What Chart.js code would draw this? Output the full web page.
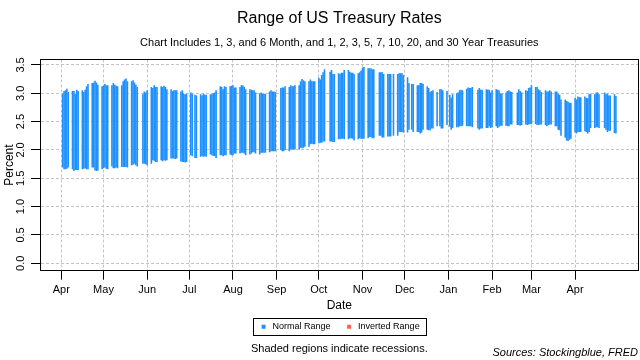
<!DOCTYPE html>
<html>
<head>
<meta charset="utf-8">
<title>Range of US Treasury Rates</title>
<script src="https://cdn.jsdelivr.net/npm/chart.js@4.4.1/dist/chart.umd.min.js"></script>
<style>
  html, body { margin: 0; padding: 0; background: #fff; }
</style>
</head>
<body>
<canvas id="chart-treasury-range" width="640" height="360"></canvas>
<script>
const FONT = '"Liberation Sans", Arial, Helvetica, sans-serif';
const BLUE = '#1e90ff';
const RED = '#ff6347';

// x axis is "days since 1 Apr 2018"
const startDay = Date.UTC(2018, 3, 1);
const endDay = Date.UTC(2019, 3, 30);
const holidays = [
    '2018-05-28', '2018-07-04', '2018-09-03', '2018-10-08', '2018-11-12', '2018-11-22',
    '2018-12-05', '2018-12-25', '2019-01-01', '2019-01-21', '2019-02-18', '2019-04-19'
];

const monthTicks = [0, 30, 61, 91, 122, 153, 183, 214, 244, 275, 306, 334, 365];
const monthLabels = ['Apr', 'May', 'Jun', 'Jul', 'Aug', 'Sep', 'Oct', 'Nov', 'Dec', 'Jan', 'Feb', 'Mar', 'Apr'];
const percentTicks = [0, 0.5, 1, 1.5, 2, 2.5, 3, 3.5];

// highest rate of the curve, one row per week
const highs = [
    2.99, 3.04, 3.05, 3.08, 3.02,
    3.04, 3.04, 2.99, 3.06, 3.04,
    3.05, 3.02, 3.06, 3.12, 3.16,
    3.18, 3.19, 3.22, 3.19, 3.15,
    3.12, 3.13, 3.16, 3.14, 3.14,
    3.14, 3.18, 3.15, 3.13, 3.12,
    3.14, 3.21, 3.24, 3.26, 3.21,
    3.21, 3.23, 3.19, 3.15, 3.11,
    2.98, 3.03, 3.01, 3.05,
    3.11, 3.09, 3.14, 3.11, 3.11,
    3.12, 3.11, 3.13, 3.11, 3.07,
    3.07, 3.04, 3.05, 3.05, 3.05,
    3.03, 3.05, 2.99, 2.98, 2.99,
    3.01, 2.99, 2.97, 2.96,
    2.98, 2.96, 2.99, 2.97, 2.97,
    2.98, 2.98, 3.00, 3.01, 3.05,
    3.12, 3.11, 3.07, 3.12, 3.11,
    3.12, 3.13, 3.14, 3.10, 3.10,
    3.11, 3.14, 3.14, 3.11, 3.07,
    3.07, 3.06, 3.05, 3.05, 3.01,
    3.00, 3.01, 2.99, 2.99, 2.99,
    3.03, 3.05, 3.03, 3.03, 3.02,
    3.09, 3.10, 3.10, 3.12,
    3.11, 3.14, 3.12, 3.12, 3.14,
    3.14, 3.21, 3.25, 3.23, 3.21,
    3.21, 3.24, 3.21, 3.21, 3.21,
    3.27, 3.24, 3.32, 3.37, 3.42,
    3.38, 3.41, 3.34, 3.34,
    3.35, 3.34, 3.36, 3.36, 3.41,
    3.41, 3.38, 3.36, 3.36, 3.34,
    3.35, 3.37, 3.40, 3.45, 3.46,
    3.44, 3.44, 3.44, 3.42, 3.42,
    3.37, 3.37, 3.37, 3.34,
    3.34, 3.34, 3.34, 3.34,
    3.34, 3.35, 3.35, 3.35, 3.32,
    3.28, 3.18, 3.16, 3.16,
    3.14, 3.14, 3.18, 3.18, 3.16,
    3.12, 3.09, 3.02, 3.04, 3.05,
    3.02, 3.07, 3.07, 3.05,
    3.04, 2.97, 2.92, 2.98,
    3.00, 3.01, 3.05, 3.06, 3.05,
    3.08, 3.10, 3.09, 3.09, 3.11,
    3.06, 3.09, 3.06, 3.06,
    3.07, 3.06, 3.06, 3.01, 3.05,
    3.07, 3.06, 3.05, 3.00, 2.99,
    3.01, 3.04, 3.05, 3.03, 3.02,
    3.01, 3.07, 3.04, 3.01,
    3.05, 3.04, 3.09, 3.10, 3.14,
    3.11, 3.11, 3.07, 3.05, 3.02,
    3.05, 3.03, 3.03, 3.05, 3.03,
    3.03, 3.03, 2.99, 2.97, 2.89,
    2.89, 2.86, 2.85, 2.83, 2.83,
    2.92, 2.89, 2.94, 2.93, 2.93,
    2.94, 2.92, 2.91, 2.98, 2.99,
    2.98, 3.01, 3.01, 2.98,
    3.01, 2.98, 2.99, 2.96, 2.96,
    2.98, 2.95
];

// lowest rate of the curve, same layout
const lows = [
    1.69, 1.66, 1.66, 1.67, 1.69,
    1.66, 1.63, 1.65, 1.65, 1.65,
    1.66, 1.67, 1.68, 1.66, 1.66,
    1.69, 1.69, 1.64, 1.63, 1.64,
    1.66, 1.68, 1.69, 1.67, 1.66,
    1.71, 1.68, 1.68, 1.69, 1.68,
    1.70, 1.70, 1.70, 1.70, 1.69,
    1.73, 1.74, 1.76, 1.73, 1.71,
    1.76, 1.76, 1.75, 1.73,
    1.76, 1.82, 1.81, 1.79, 1.79,
    1.82, 1.80, 1.82, 1.81, 1.82,
    1.85, 1.85, 1.85, 1.84, 1.85,
    1.80, 1.79, 1.79, 1.78, 1.79,
    1.91, 1.89, 1.86, 1.86,
    1.88, 1.89, 1.88, 1.89, 1.88,
    1.92, 1.91, 1.90, 1.89, 1.86,
    1.91, 1.91, 1.89, 1.91, 1.91,
    1.92, 1.91, 1.91, 1.94, 1.94,
    1.94, 1.95, 1.95, 1.94, 1.91,
    1.92, 1.94, 1.96, 1.96, 1.94,
    1.92, 1.95, 1.95, 1.95, 1.95,
    1.96, 1.98, 1.98, 1.98, 1.98,
    2.00, 1.98, 1.98, 2.00,
    1.98, 2.01, 2.01, 2.01, 2.01,
    2.01, 2.04, 2.03, 2.04, 2.06,
    2.06, 2.10, 2.11, 2.10, 2.10,
    2.12, 2.13, 2.13, 2.15, 2.15,
    2.15, 2.15, 2.14, 2.14,
    2.19, 2.19, 2.20, 2.20, 2.19,
    2.19, 2.21, 2.21, 2.20, 2.17,
    2.19, 2.21, 2.20, 2.20, 2.20,
    2.21, 2.23, 2.23, 2.21, 2.21,
    2.25, 2.25, 2.22, 2.22,
    2.24, 2.24, 2.24, 2.25,
    2.25, 2.32, 2.32, 2.32, 2.31,
    2.31, 2.36, 2.36, 2.32,
    2.32, 2.32, 2.29, 2.31, 2.36,
    2.36, 2.35, 2.35, 2.38, 2.38,
    2.42, 2.42, 2.38, 2.38,
    2.44, 2.41, 2.36, 2.39,
    2.40, 2.40, 2.42, 2.42, 2.43,
    2.42, 2.42, 2.42, 2.42, 2.40,
    2.38, 2.36, 2.38, 2.38,
    2.39, 2.39, 2.42, 2.39, 2.40,
    2.42, 2.39, 2.41, 2.43, 2.43,
    2.43, 2.42, 2.42, 2.45, 2.45,
    2.44, 2.44, 2.43, 2.44,
    2.45, 2.44, 2.45, 2.46, 2.46,
    2.46, 2.44, 2.44, 2.45, 2.45,
    2.44, 2.42, 2.44, 2.45, 2.45,
    2.42, 2.42, 2.36, 2.35, 2.25,
    2.22, 2.17, 2.16, 2.18, 2.20,
    2.31, 2.29, 2.32, 2.32, 2.32,
    2.33, 2.32, 2.29, 2.32, 2.39,
    2.39, 2.40, 2.40, 2.39,
    2.39, 2.36, 2.32, 2.34, 2.34,
    2.30, 2.29
];

function tradingDays() {
    const days = [];
    for (let t = startDay; t <= endDay; t += 86400000) {
        const d = new Date(t);
        const wd = d.getUTCDay();
        if (wd === 0 || wd === 6) continue;
        if (holidays.includes(d.toISOString().slice(0, 10))) continue;
        days.push((t - startDay) / 86400000);
    }
    return days;
}

const days = tradingDays();

const gridStyle = {
    color: '#c4c4c4',
    tickColor: '#000',
    tickLength: 9,
    tickBorderDash: [],
    offset: false
};

// box round the plot, legend frame and the two footnotes
const framePlugin = {
    id: 'frame',
    afterDraw(chart) {
        const {ctx, chartArea: a} = chart;
        const px = v => Math.round(v - 0.5) + 0.5;
        ctx.save();
        ctx.strokeStyle = '#000';
        ctx.lineWidth = 1;
        ctx.strokeRect(px(a.left), px(a.top), px(a.right) - px(a.left), px(a.bottom) - px(a.top));

        const boxes = chart.legend.legendHitBoxes;
        if (boxes && boxes.length) {
            const first = boxes[0];
            const last = boxes[boxes.length - 1];
            const x1 = px(first.left - 5.5);
            const x2 = px(last.left + last.width + 6.5);
            const yc = first.top + first.height / 2;
            ctx.strokeRect(x1, px(yc - 8.4), x2 - x1, 17);
        }

        ctx.fillStyle = '#000';
        ctx.textBaseline = 'middle';
        ctx.font = '11px ' + FONT;
        ctx.textAlign = 'center';
        ctx.fillText('Shaded regions indicate recessions.', (a.left + a.right) / 2, 349);
        ctx.font = 'italic 11px ' + FONT;
        ctx.textAlign = 'right';
        ctx.fillText('Sources: Stockingblue, FRED', 638, 352.5);
        ctx.restore();
    }
};

new Chart(document.querySelector('#chart-treasury-range'), {
    type: 'bar',
    data: {
        datasets: [
            {
                label: 'Normal Range',
                data: days.map((d, i) => ({x: d, y: [lows[i], highs[i]]})),
                backgroundColor: BLUE,
                borderWidth: 0,
                barThickness: 1.4,
                inflateAmount: 0.1,
                grouped: false
            },
            {
                label: 'Inverted Range',
                data: [],
                backgroundColor: RED,
                borderWidth: 0,
                barThickness: 1.4,
                grouped: false
            }
        ]
    },
    options: {
        responsive: false,
        animation: false,
        events: [],
        layout: {
            padding: {top: 0, left: 0, right: 1.3, bottom: 18.8}
        },
        scales: {
            x: {
                type: 'linear',
                min: -15.1,
                max: 410.2,
                offset: false,
                afterBuildTicks: s => { s.ticks = monthTicks.map(v => ({value: v})); },
                afterFit: s => { s.height = 37.5; },
                ticks: {
                    callback: (v, i) => monthLabels[i],
                    font: {size: 11, family: FONT},
                    color: '#000',
                    padding: 4,
                    maxRotation: 0,
                    autoSkip: false
                },
                grid: gridStyle,
                border: {display: true, color: '#000', width: 1, dash: [3, 2]},
                title: {
                    display: true,
                    text: 'Date',
                    font: {size: 12, family: FONT},
                    color: '#000',
                    padding: {top: 0, bottom: -5}
                }
            },
            y: {
                min: -0.131,
                max: 3.596,
                afterBuildTicks: s => { s.ticks = percentTicks.map(v => ({value: v})); },
                afterFit: s => { s.width = 40; },
                ticks: {
                    callback: v => v.toFixed(1),
                    font: {size: 11, family: FONT},
                    color: '#000',
                    padding: 2.4,
                    minRotation: 90,
                    maxRotation: 90,
                    crossAlign: 'center'
                },
                grid: gridStyle,
                border: {display: true, color: '#000', width: 1, dash: [3, 2]},
                title: {
                    display: true,
                    text: 'Percent',
                    font: {size: 12, family: FONT},
                    color: '#000',
                    padding: {top: 2.8, bottom: 0}
                }
            }
        },
        plugins: {
            title: {
                display: true,
                fullSize: false,
                text: 'Range of US Treasury Rates',
                font: {size: 16, family: FONT, weight: 'normal'},
                color: '#000',
                padding: {top: 9.4, bottom: 0}
            },
            subtitle: {
                display: true,
                fullSize: false,
                text: 'Chart Includes 1, 3, and 6 Month, and 1, 2, 3, 5, 7, 10, 20, and 30 Year Treasuries',
                font: {size: 11, family: FONT},
                color: '#000',
                padding: {top: 8, bottom: 9.7}
            },
            legend: {
                position: 'bottom',
                fullSize: false,
                labels: {
                    usePointStyle: true,
                    pointStyle: 'rect',
                    boxWidth: 9,
                    boxHeight: 4,
                    padding: 14,
                    color: '#000',
                    font: {size: 9, family: FONT}
                }
            },
            tooltip: {enabled: false}
        }
    },
    plugins: [framePlugin]
});
</script>
</body>
</html>
